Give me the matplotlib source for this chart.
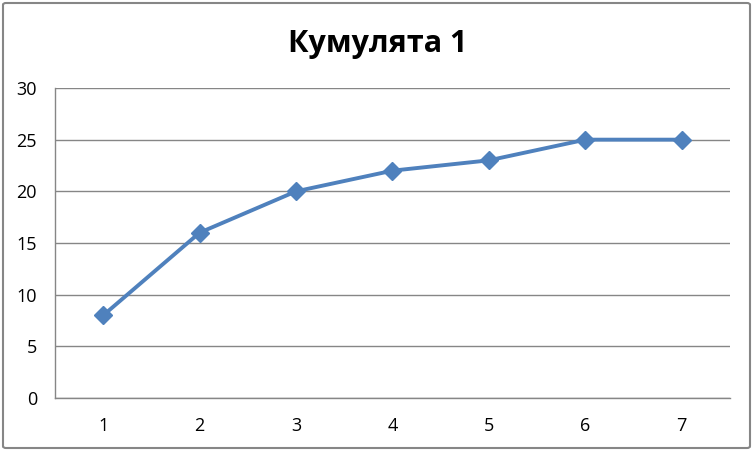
import matplotlib
matplotlib.use("Agg")
import matplotlib.pyplot as plt
from matplotlib.patches import FancyBboxPatch

categories = [1, 2, 3, 4, 5, 6, 7]
values = [8, 16, 20, 22, 23, 25, 25]
yticks = [0, 5, 10, 15, 20, 25, 30]
title = "Кумулята 1"

plt.rcParams['font.family'] = ['Open Sans', 'DejaVu Sans']

W, H = 753, 451
fig = plt.figure(figsize=(W / 100, H / 100), dpi=100)
ax = fig.add_axes([55 / W, (H - 398) / H, 675 / W, 310 / H])

ax.plot(categories, values, color='#4F81BD', linewidth=2.8, marker='D',
        markersize=9, markeredgecolor='#4F81BD', zorder=3)

ax.set_xlim(0.5, 7.5)
ax.set_ylim(0, 30)
ax.set_yticks(yticks)
ax.set_xticks(categories)
ax.set_xticklabels([str(c) for c in categories])
ax.grid(axis='y', color='#868686', linewidth=1)
ax.set_axisbelow(True)
for s in ['top', 'right']:
    ax.spines[s].set_visible(False)
for s in ['left', 'bottom']:
    ax.spines[s].set_color('#868686')
    ax.spines[s].set_linewidth(1)
ax.tick_params(axis='both', length=0, labelsize=13, colors='black')
ax.tick_params(axis='y', pad=13)
ax.tick_params(axis='x', pad=14)

fig.text(378 / W, 1 - 44 / H, title, ha='center', va='center',
         fontsize=22, fontweight='bold', color='black')

border = FancyBboxPatch((3 / W, 3 / H), (W - 6) / W, (H - 6) / H,
                        boxstyle="round,pad=0,rounding_size=0.004",
                        transform=fig.transFigure, fill=False,
                        edgecolor='#868686', linewidth=1.5)
fig.patches.append(border)

fig.savefig("out.png", dpi=100)
